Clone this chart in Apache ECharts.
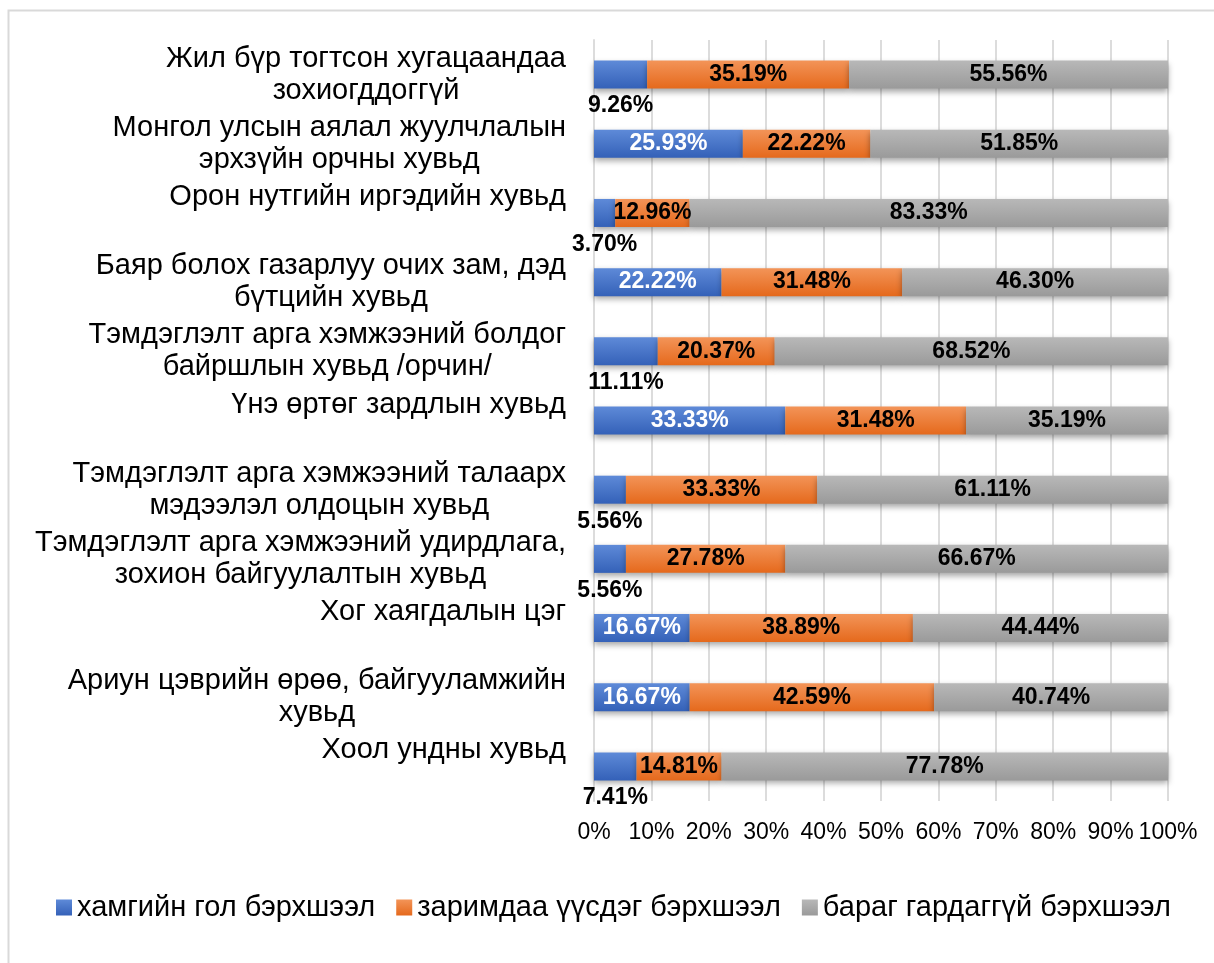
<!DOCTYPE html>
<html>
<head>
<meta charset="utf-8">
<script src="https://cdn.jsdelivr.net/npm/echarts@6/dist/echarts.min.js"></script>
<style>
  html, body { margin: 0; padding: 0; background: #fff; }
  #chart { width: 1214px; height: 963px; }
</style>
</head>
<body>
<div id="chart"></div>
<script>
let categories = [
    'Жил бүр тогтсон хугацаандаа\nзохиогддоггүй',
    'Монгол улсын аялал жуулчлалын\nэрхзүйн орчны хувьд',
    'Орон нутгийн иргэдийн хувьд\n ',
    'Баяр болох газарлуу очих зам, дэд\nбүтцийн хувьд',
    'Тэмдэглэлт арга хэмжээний болдог\nбайршлын хувьд /орчин/',
    'Үнэ өртөг зардлын хувьд\n ',
    'Тэмдэглэлт арга хэмжээний талаарх\nмэдээлэл олдоцын хувьд',
    'Тэмдэглэлт арга хэмжээний удирдлага,\nзохион байгуулалтын хувьд',
    'Хог хаягдалын цэг\n ',
    'Ариун цэврийн өрөө, байгууламжийн\nхувьд',
    'Хоол ундны хувьд\n '
];
let seriesNames = ['хамгийн гол бэрхшээл', 'заримдаа үүсдэг бэрхшээл', 'бараг гардаггүй бэрхшээл'];
let mainData = [9.26, 25.93, 3.70, 22.22, 11.11, 33.33, 5.56, 5.56, 16.67, 16.67, 7.41];
let sometimesData = [35.19, 22.22, 12.96, 31.48, 20.37, 31.48, 33.33, 27.78, 38.89, 42.59, 14.81];
let rareData = [55.56, 51.85, 83.33, 46.30, 68.52, 35.19, 61.11, 66.67, 44.44, 40.74, 77.78];
let xTicks = [0, 10, 20, 30, 40, 50, 60, 70, 80, 90, 100];

const font = '"Liberation Sans", Arial, sans-serif';

function grad(top, bottom) {
    return new echarts.graphic.LinearGradient(0, 0, 0, 1, [
        {offset: 0, color: top},
        {offset: 1, color: bottom}
    ]);
}
const blue = grad('#5e8ad8', '#3461b8');
const orange = grad('#f39458', '#e5691c');
const gray = grad('#b8b8b8', '#9a9a9a');

function pct(p) {
    return p.value.toFixed(2) + '%';
}

// small blue values are put under the bar, like in the original
let mainItems = mainData.map(function (v) {
    if (v < 12) {
        return {value: v, label: {position: 'bottom', distance: 6, color: '#000'}};
    }
    return {value: v};
});

let barStyle = {
    shadowColor: 'rgba(0,0,0,0.35)',
    shadowBlur: 6,
    shadowOffsetY: 3
};
let labelStyle = {show: true, position: 'inside', color: '#000', fontWeight: 'bold', fontSize: 23, formatter: pct};

let chart = echarts.init(document.getElementById('chart'));
chart.setOption({
    animation: false,
    textStyle: {fontFamily: font},
    graphic: [{
        type: 'rect',
        shape: {x: 8.5, y: 10.5, width: 1300, height: 1100},
        style: {fill: 'none', stroke: '#d9d9d9', lineWidth: 2},
        silent: true
    }],
    grid: {left: 594, right: 46, top: 40, bottom: 162},
    legend: {
        data: seriesNames,
        left: 51,
        top: 888,
        itemWidth: 16,
        itemHeight: 16,
        itemGap: 21,
        icon: 'rect',
        textStyle: {fontSize: 29, color: '#000', fontFamily: font}
    },
    xAxis: {
        type: 'value',
        min: 0,
        max: 100,
        interval: 10,
        axisLine: {show: false},
        axisTick: {show: false},
        splitLine: {lineStyle: {color: '#dcdcdc', width: 2}},
        axisLabel: {
            fontSize: 23,
            color: '#000',
            margin: 20,
            formatter: function (v) { return xTicks.indexOf(v) >= 0 ? v + '%' : ''; }
        }
    },
    yAxis: {
        type: 'category',
        data: categories,
        inverse: true,
        axisLine: {show: true, lineStyle: {color: '#dcdcdc', width: 2}},
        axisTick: {show: false},
        axisLabel: {
            margin: 28,
            align: 'right',
            formatter: function (v) {
                return v.split('\n').map(function (s) { return '{c|' + s + '}'; }).join('\n');
            },
            rich: {
                c: {fontSize: 29, lineHeight: 32, color: '#000', align: 'center', fontFamily: font}
            }
        }
    },
    series: [
        {
            name: seriesNames[0],
            type: 'bar',
            stack: 'all',
            barWidth: 28,
            data: mainItems,
            itemStyle: Object.assign({color: blue}, barStyle),
            label: Object.assign({}, labelStyle, {color: '#fff'})
        },
        {
            name: seriesNames[1],
            type: 'bar',
            stack: 'all',
            barWidth: 28,
            data: sometimesData,
            itemStyle: Object.assign({color: orange}, barStyle),
            label: labelStyle
        },
        {
            name: seriesNames[2],
            type: 'bar',
            stack: 'all',
            barWidth: 28,
            data: rareData,
            itemStyle: Object.assign({color: gray}, barStyle),
            label: labelStyle
        }
    ]
});
</script>
</body>
</html>
